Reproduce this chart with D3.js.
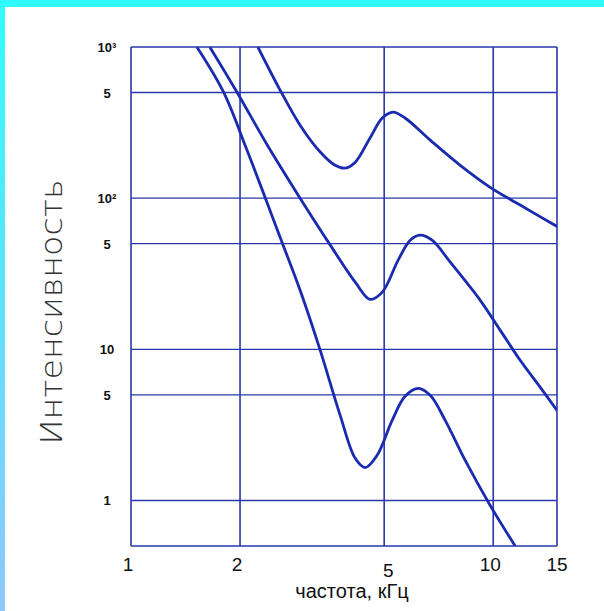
<!DOCTYPE html>
<html><head><meta charset="utf-8">
<script src="https://cdn.jsdelivr.net/npm/d3@7"></script>
<style>html,body{margin:0;padding:0;background:#fff;}svg{display:block;}</style>
</head><body>
<script>
// ---- data ----
const xTicks = [1, 2, 5, 10, 15];
const xTickLabels = ["1", "2", "5", "10", "15"];
const yGrid = [1000, 500, 100, 50, 10, 5, 1];
const yTickLabels = ["10³", "5", "10²", "5", "10", "5", "1"];
const freqA = [2.24, 2.58, 2.93, 3.33, 3.66, 3.90, 4.16, 4.57, 4.94, 5.29, 5.71, 6.70, 8.11, 9.81, 11.87, 15];
const intA  = [1000, 519, 304, 202, 165, 158, 173, 250, 339, 371, 339, 242, 165, 118, 90, 65];
const freqB = [1.65, 1.96, 2.38, 2.93, 3.55, 4.16, 4.57, 4.94, 5.46, 5.90, 6.28, 6.78, 7.61, 9.21, 10.45, 11.87, 13.49, 15];
const intB  = [1000, 504, 224, 100, 48.9, 27.8, 21.4, 23.9, 38.8, 52.7, 56.9, 52.7, 37.7, 21.1, 13.4, 8.46, 5.6, 3.95];
const freqC = [1.52, 1.80, 2.09, 2.58, 2.93, 3.33, 3.78, 4.16, 4.43, 4.78, 5.26, 5.71, 6.21, 6.70, 7.37, 8.37, 9.81, 11.5];
const intC  = [1000, 504, 208, 55.2, 24.6, 9.85, 3.66, 1.90, 1.65, 1.99, 3.39, 4.89, 5.52, 4.96, 3.39, 1.84, 0.927, 0.5];
const xTitle = "частота, кГц";
const yTitle = "Интенсивность";

// ---- layout ----
const W = 604, H = 611;
const m = {left: 131, right: 47, top: 47, bottom: 65};
const svg = d3.select("body").append("svg").attr("width", W).attr("height", H);

const defs = svg.append("defs");
const lg = defs.append("linearGradient").attr("id", "lg").attr("x1", 0).attr("y1", 0).attr("x2", 0).attr("y2", 1);
lg.append("stop").attr("offset", "0%").attr("stop-color", "#30fbff");
lg.append("stop").attr("offset", "100%").attr("stop-color", "#8ec8ff");
svg.append("rect").attr("x", 0).attr("y", 0).attr("width", 5).attr("height", H).attr("fill", "url(#lg)");
svg.append("rect").attr("x", 0).attr("y", 0).attr("width", W).attr("height", 7).attr("fill", "#30fcff");

const x = d3.scaleLog().domain([1, 15]).range([m.left, W - m.right]);
const y = d3.scaleLog().domain([0.5, 1000]).range([H - m.bottom, m.top]);

defs.append("clipPath").attr("id", "clip").append("rect")
  .attr("x", m.left).attr("y", m.top).attr("width", W - m.left - m.right).attr("height", H - m.top - m.bottom);

const gridColor = "#2838a8";
const g = svg.append("g");
g.selectAll("line.h").data(yGrid.concat([0.5])).join("line")
  .attr("x1", m.left).attr("x2", W - m.right)
  .attr("y1", d => y(d)).attr("y2", d => y(d))
  .attr("stroke", gridColor).attr("stroke-width", 1.4);
g.selectAll("line.v").data(xTicks).join("line")
  .attr("x1", d => x(d)).attr("x2", d => x(d))
  .attr("y1", m.top).attr("y2", H - m.bottom)
  .attr("stroke", gridColor).attr("stroke-width", 1.6);

// curves
const line = d3.line().x(d => x(d[0])).y(d => y(d[1])).curve(d3.curveCatmullRom.alpha(0.5));
const series = [[freqA, intA], [freqB, intB], [freqC, intC]];
svg.append("g").attr("clip-path", "url(#clip)").selectAll("path").data(series).join("path")
  .attr("d", s => line(s[0].map((f, i) => [f, s[1][i]])))
  .attr("fill", "none").attr("stroke", "#1a2bb0").attr("stroke-width", 2.8).attr("stroke-linejoin", "round");

// x tick labels
const xOff = {"1": [-3, 0], "2": [-3, 0], "5": [4, 6], "10": [-3, 0], "15": [0, 0]};
svg.selectAll("text.xt").data(xTicks).join("text")
  .attr("x", (d, i) => x(d) + xOff[xTickLabels[i]][0])
  .attr("y", (d, i) => 571 + xOff[xTickLabels[i]][1])
  .attr("text-anchor", "middle").attr("font-family", "Liberation Sans, Arial, sans-serif")
  .attr("font-size", 19).attr("fill", "#111").text((d, i) => xTickLabels[i]);

svg.append("text").attr("x", 352).attr("y", 598).attr("text-anchor", "middle")
  .attr("font-family", "Liberation Sans, Arial, sans-serif").attr("font-size", 20).attr("fill", "#111").text(xTitle);

// y tick labels
svg.selectAll("text.yt").data(yGrid).join("text")
  .attr("x", 107).attr("y", d => y(d) + 5)
  .attr("text-anchor", "middle").attr("font-family", "Liberation Sans, Arial, sans-serif")
  .attr("font-weight", "bold").attr("font-size", 13).attr("fill", "#111")
  .text((d, i) => yTickLabels[i]);

// y title
svg.append("text").attr("transform", "translate(62,312) rotate(-90)")
  .attr("text-anchor", "middle").attr("font-family", "DejaVu Sans, sans-serif").attr("font-weight", 200)
  .attr("font-size", 30).attr("fill", "#333")
  .attr("textLength", 265).attr("lengthAdjust", "spacingAndGlyphs").text(yTitle);
</script>
</body></html>
